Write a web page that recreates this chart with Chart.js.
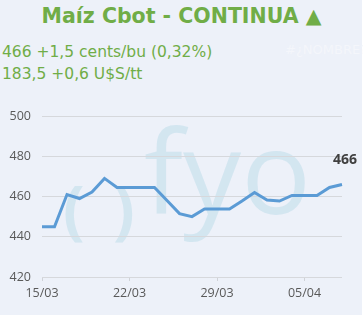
<!DOCTYPE html>
<html>
<head>
<meta charset="utf-8">
<script src="https://cdn.jsdelivr.net/npm/chart.js@4.4.1/dist/chart.umd.min.js"></script>
<style>
  html, body { margin:0; padding:0; background:#ffffff; }
  #wrap { position:relative; width:363px; height:318px; overflow:hidden; }
  #bg { position:absolute; left:0; top:0; width:362px; height:315px; background:#EDF1F9; }
  #title { position:absolute; left:0; top:3px; width:363px; text-align:center; font-family:"DejaVu Sans"; font-weight:bold; font-size:20.5px; color:#70AD47; line-height:26px; white-space:nowrap; }
  .sub { position:absolute; left:2px; font-family:"DejaVu Sans"; font-size:15.5px; color:#70AD47; line-height:20px; white-space:nowrap; }
  #err { position:absolute; left:285px; top:42px; font-family:"DejaVu Sans"; font-size:13px; color:#F4F6FB; white-space:nowrap; }
  canvas { position:absolute; left:0; top:0; }
</style>
</head>
<body>
<div id="wrap">
  <div id="bg"></div>
  <div id="title">Maíz Cbot - CONTINUA ▲</div>
  <div class="sub" style="top:42px">466 +1,5 cents/bu (0,32%)</div>
  <div class="sub" style="top:64px">183,5 +0,6 U$S/tt</div>
  <div id="err">#¿NOMBRE?</div>
  <canvas id="c" width="363" height="318"></canvas>
</div>
<script>
const dates = ["15/03","16/03","17/03","18/03","19/03","20/03","21/03","22/03","23/03","24/03","25/03","26/03","27/03","28/03","29/03","30/03","31/03","01/04","02/04","03/04","04/04","05/04","06/04","07/04","08/04"];
const prices = [445, 445, 461, 459, 462.25, 469, 464.5, 464.5, 464.5, 464.5, 458, 451.5, 450, 453.75, 453.75, 453.75, 457.75, 462, 458.25, 457.75, 460.5, 460.5, 460.5, 464.5, 466];
const yTicks = [420, 440, 460, 480, 500];
const lastLabel = "466";

const watermark = {
  id: 'watermark',
  beforeDraw(chart) {
    const ctx = chart.ctx;
    ctx.save();
    ctx.fillStyle = 'rgba(190,220,234,0.55)';
    ctx.textBaseline = 'alphabetic';
    ctx.textAlign = 'left';
    ctx.font = 'bold 64px "Open Sans"';
    ctx.fillText('(', 63, 232);
    ctx.fillText(')', 113, 232);
    ctx.font = '116px "Open Sans"';
    ctx.fillText('fyo', 144, 214);
    ctx.restore();
  }
};

const endLabel = {
  id: 'endLabel',
  afterDatasetsDraw(chart) {
    const meta = chart.getDatasetMeta(0);
    const pt = meta.data[meta.data.length - 1];
    const ctx = chart.ctx;
    ctx.save();
    ctx.font = 'bold 14px "Open Sans"';
    ctx.fillStyle = '#404040';
    ctx.textAlign = 'right';
    ctx.textBaseline = 'middle';
    ctx.fillText(lastLabel, pt.x + 15, pt.y - 24);
    ctx.restore();
  }
};

new Chart(document.getElementById('c'), {
  type: 'line',
  data: {
    labels: dates,
    datasets: [{
      data: prices,
      borderColor: '#5B9BD5',
      borderWidth: 3,
      pointRadius: 0,
      tension: 0,
      fill: false
    }]
  },
  options: {
    responsive: false,
    animation: false,
    layout: { padding: { top: 116, right: 21, left: 0, bottom: 0 } },
    plugins: { legend: { display: false }, tooltip: { enabled: false } },
    scales: {
      x: {
        offset: false,
        afterFit(s) { s.height = 41; },
        border: { display: false },
        grid: { drawOnChartArea: false, drawTicks: true, tickLength: 4, color: '#D0D3D8' },
        ticks: {
          autoSkip: false, maxRotation: 0, padding: 5,
          color: '#595959', font: { family: 'Open Sans', size: 12.5 },
          callback: (v, i) => (i % 7 === 0 ? dates[i] : null)
        }
      },
      y: {
        min: yTicks[0], max: yTicks[yTicks.length - 1],
        afterFit(s) { s.width = 42; },
        afterBuildTicks(s) { s.ticks = yTicks.map(v => ({ value: v })); },
        border: { display: false },
        grid: { color: '#D6D8DC', drawTicks: false, lineWidth: 1 },
        ticks: { padding: 11, color: '#595959', font: { family: 'Open Sans', size: 12.5 } }
      }
    }
  },
  plugins: [watermark, endLabel]
});
</script>
</body>
</html>
